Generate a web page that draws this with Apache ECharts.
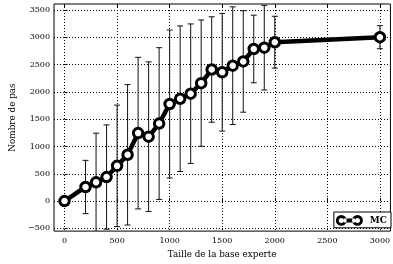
<!DOCTYPE html>
<html>
<head>
<meta charset="utf-8">
<script src="https://cdn.jsdelivr.net/npm/echarts@6/dist/echarts.min.js"></script>
<style>
html, body { margin: 0; padding: 0; background: #fff; }
#chart { width: 393px; height: 264px; }
</style>
</head>
<body>
<div id="chart"></div>
<script>
// data
var sizes = [0, 200, 300, 400, 500, 600, 700, 800, 900, 1000, 1100, 1200, 1300, 1400, 1500, 1600, 1700, 1800, 1900, 2000, 3000];
var means = [0, 258, 344, 440, 645, 848, 1245, 1180, 1420, 1778, 1875, 1967, 2160, 2410, 2360, 2480, 2558, 2786, 2810, 2910, 3002];
var errs  = [0, 488, 900, 955, 1113, 1286, 1388, 1370, 1390, 1355, 1333, 1278, 1157, 966, 1078, 1078, 930, 619, 775, 475, 211];
var xTicks = [0, 500, 1000, 1500, 2000, 2500, 3000];
var yTicks = [-500, 0, 500, 1000, 1500, 2000, 2500, 3000, 3500];

var font = 'DejaVu Serif';

var lineData = sizes.map(function (s, i) { return [s, means[i]]; });
var errData = sizes.map(function (s, i) { return [s, means[i] - errs[i], means[i] + errs[i]]; });

// two rings joined by a thick bar, like the matplotlib legend handle
var legendIcon = 'path://M0,6a6,6 0 1,0 12,0a6,6 0 1,0 -12,0ZM3.2,6a2.8,2.8 0 1,1 5.6,0a2.8,2.8 0 1,1 -5.6,0Z' +
    'M18,6a6,6 0 1,0 12,0a6,6 0 1,0 -12,0ZM21.2,6a2.8,2.8 0 1,1 5.6,0a2.8,2.8 0 1,1 -5.6,0Z' +
    'M8.8,3.8L21.2,3.8L21.2,8.2L8.8,8.2Z';

function plain(v) { return String(v).replace('-', '\u2212'); }

var myChart = echarts.init(document.getElementById('chart'));

var option = {
    animation: false,
    backgroundColor: '#fff',
    grid: {
        left: 51, top: 4, right: -2, bottom: 31,
        show: true, borderColor: '#000', borderWidth: 1, backgroundColor: 'transparent'
    },
    legend: {
        right: 2, top: 212,
        data: [{ name: 'MC', icon: legendIcon }],
        backgroundColor: '#fff',
        borderColor: '#000', borderWidth: 1, borderRadius: 0,
        padding: [3, 4, 2, 2],
        itemWidth: 27, itemHeight: 11, itemGap: 4,
        itemStyle: { color: '#000', borderWidth: 0 },
        textStyle: { fontFamily: font, fontSize: 9, fontWeight: 'bold', color: '#000', padding: [0, 0, 0, 2] }
    },
    xAxis: [{
        type: 'value', min: -100, max: 3100,
        name: 'Taille de la base experte',
        nameLocation: 'middle', nameGap: 17,
        nameTextStyle: { fontFamily: font, fontSize: 8.8, color: '#000' },
        axisLine: { show: false },
        axisTick: { show: true, inside: true, length: 3, customValues: xTicks, lineStyle: { color: '#000' } },
        axisLabel: { customValues: xTicks, fontFamily: font, fontSize: 8, color: '#000', margin: 6, formatter: plain },
        splitLine: { show: true, lineStyle: { color: '#000', type: [1, 2], width: 1 } }
    }, {
        type: 'value', min: -100, max: 3100, position: 'top',
        axisLine: { show: false },
        axisTick: { show: true, inside: true, length: 3, customValues: xTicks, lineStyle: { color: '#000' } },
        axisLabel: { show: false },
        splitLine: { show: false }
    }],
    yAxis: {
        type: 'value', min: -550, max: 3610,
        name: 'Nombre de pas',
        nameLocation: 'middle', nameGap: 37, nameRotate: 90,
        nameTextStyle: { fontFamily: font, fontSize: 8.8, color: '#000' },
        axisLine: { show: false },
        axisTick: { show: true, inside: true, length: 3, customValues: yTicks, lineStyle: { color: '#000' } },
        axisLabel: { customValues: yTicks, fontFamily: font, fontSize: 8, color: '#000', margin: 4, formatter: plain },
        splitLine: { show: true, lineStyle: { color: '#000', type: [1, 2], width: 1 } }
    },
    series: [{
        name: 'err',
        type: 'custom',
        clip: true,
        z: 1,
        renderItem: function (params, api) {
            var x = api.value(0);
            var lo = api.coord([x, api.value(1)]);
            var hi = api.coord([x, api.value(2)]);
            var w = 3;
            var st = { stroke: '#111', lineWidth: 1 };
            return {
                type: 'group',
                children: [
                    { type: 'line', shape: { x1: lo[0], y1: lo[1], x2: hi[0], y2: hi[1] }, style: st },
                    { type: 'line', shape: { x1: hi[0] - w, y1: hi[1], x2: hi[0] + w, y2: hi[1] }, style: st },
                    { type: 'line', shape: { x1: lo[0] - w, y1: lo[1], x2: lo[0] + w, y2: lo[1] }, style: st }
                ]
            };
        },
        encode: { x: 0, y: [1, 2] },
        data: errData
    }, {
        name: 'MC',
        type: 'line',
        z: 3,
        data: lineData,
        symbol: 'circle',
        symbolSize: 9.5,
        showAllSymbol: true,
        lineStyle: { color: '#000', width: 4.5 },
        itemStyle: { color: '#fff', borderColor: '#000', borderWidth: 3 }
    }]
};

myChart.setOption(option);
</script>
</body>
</html>
